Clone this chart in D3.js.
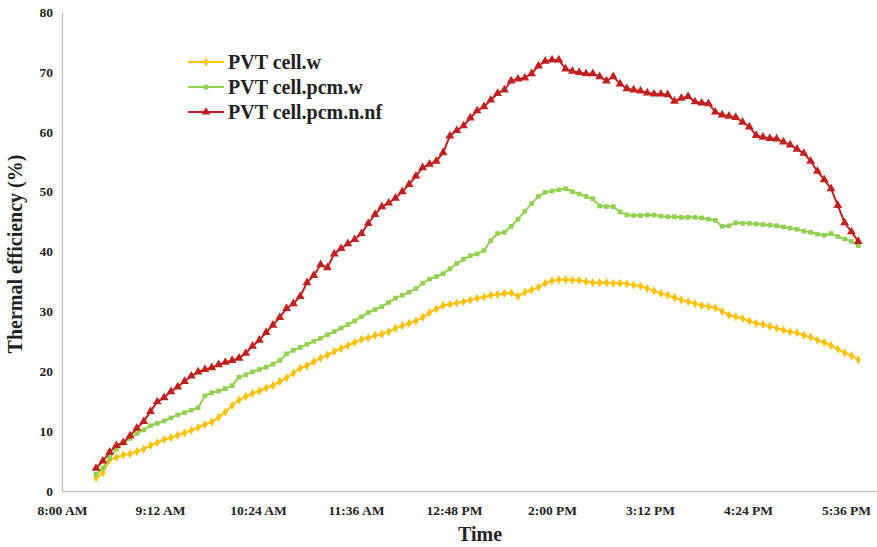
<!DOCTYPE html>
<html>
<head>
<meta charset="utf-8">
<script src="https://cdn.jsdelivr.net/npm/d3@7"></script>
<style>
  body { margin: 0; background: #fff; }
  svg text { font-family: "Liberation Serif", "Times New Roman", serif; font-weight: bold; fill: #222; }
</style>
</head>
<body>
<div id="chart"></div>
<script>
const WIDTH = 877;
const HEIGHT = 547;

// readings every 5 minutes, starting 8:25 AM
const START_TIME = [8, 25];
const STEP_MINUTES = 5;

const cellW = [
  2.2, 3.0, 5.2, 5.6, 6.0, 6.2, 6.6, 7.0, 7.6, 8.1,
  8.6, 8.9, 9.3, 9.7, 10.1, 10.6, 11.1, 11.5, 12.3, 13.2,
  14.3, 15.2, 15.8, 16.3, 16.7, 17.2, 17.6, 18.3, 18.9, 19.7,
  20.5, 20.9, 21.6, 22.2, 22.7, 23.3, 23.8, 24.3, 24.8, 25.3,
  25.6, 26.0, 26.2, 26.6, 27.2, 27.6, 28.0, 28.4, 29.0, 29.8,
  30.4, 31.0, 31.2, 31.4, 31.6, 31.9, 32.2, 32.4, 32.7, 32.8,
  33.0, 33.1, 32.5, 33.2, 33.6, 34.0, 34.7, 35.1, 35.3, 35.3,
  35.2, 35.2, 35.0, 34.8, 34.8, 34.8, 34.7, 34.7, 34.6, 34.4,
  34.2, 33.8, 33.4, 33.0, 32.7, 32.3, 31.9, 31.6, 31.3, 31.0,
  30.8, 30.6, 30.0, 29.4, 29.1, 28.8, 28.4, 28.0, 27.8, 27.5,
  27.2, 26.9, 26.6, 26.4, 26.0, 25.7, 25.2, 24.8, 24.3, 23.7,
  23.1, 22.6, 21.9
];

const cellPcmW = [
  2.8, 3.8, 5.6, 7.0, 8.0, 8.8, 9.6, 10.2, 10.9, 11.3,
  11.7, 12.2, 12.7, 13.1, 13.5, 13.9, 15.9, 16.4, 16.7, 17.1,
  17.6, 19.0, 19.4, 19.9, 20.3, 20.7, 21.2, 21.8, 22.9, 23.5,
  24.0, 24.5, 25.0, 25.5, 26.1, 26.6, 27.2, 27.8, 28.4, 29.1,
  29.8, 30.3, 30.8, 31.5, 32.2, 32.7, 33.2, 33.8, 34.7, 35.4,
  35.8, 36.3, 37.1, 38.0, 38.7, 39.3, 39.6, 40.2, 41.8, 43.0,
  43.2, 44.2, 45.4, 46.7, 48.0, 49.2, 49.9, 50.1, 50.3, 50.5,
  50.0, 49.6, 49.2, 48.8, 47.6, 47.5, 47.5, 46.6, 46.1, 46.0,
  46.0, 46.1, 46.1, 45.9, 45.8, 45.8, 45.7, 45.7, 45.7, 45.6,
  45.4, 45.2, 44.2, 44.3, 44.8, 44.7, 44.7, 44.6, 44.5, 44.4,
  44.3, 44.1, 43.9, 43.7, 43.4, 43.2, 42.9, 42.7, 43.0, 42.5,
  42.1, 41.7, 41.0
];

const cellPcmNnf = [
  3.8, 5.0, 6.5, 7.6, 8.1, 9.2, 10.5, 11.6, 13.3, 14.9,
  15.6, 16.6, 17.4, 18.3, 19.2, 19.9, 20.3, 20.6, 21.1, 21.5,
  21.8, 22.2, 23.0, 24.2, 25.2, 26.5, 27.7, 29.0, 30.5, 31.3,
  32.5, 34.8, 36.0, 37.8, 37.3, 39.6, 40.5, 41.3, 42.0, 43.0,
  44.7, 46.2, 47.5, 48.1, 48.9, 50.0, 51.2, 52.6, 54.0, 54.6,
  55.1, 56.5, 59.3, 60.2, 61.0, 62.3, 63.5, 64.2, 65.3, 66.4,
  67.0, 68.5, 68.8, 69.0, 69.7, 71.0, 71.8, 72.0, 72.0, 70.5,
  70.1, 69.9, 69.7, 69.7, 69.2, 68.5, 69.2, 68.0, 67.2, 67.0,
  66.8, 66.5, 66.3, 66.3, 66.2, 65.1, 65.6, 65.9, 65.0, 64.8,
  64.7, 63.3, 62.8, 62.6, 62.4, 61.6, 60.8, 59.4, 59.1, 58.9,
  58.8, 58.3, 57.8, 57.1, 56.4, 55.1, 53.4, 52.0, 50.5, 47.7,
  44.8, 43.3, 41.7
];

const seriesNames = ["PVT cell.w", "PVT cell.pcm.w", "PVT cell.pcm.n.nf"];
const seriesColors = ["#FFC000", "#92D050", "#C0201E"];
const seriesSymbols = [d3.symbolDiamond, d3.symbolSquare, d3.symbolTriangle];
const seriesSymbolSizes = [24, 22, 34];

const yTicks = [0, 10, 20, 30, 40, 50, 60, 70, 80];
const xTickLabels = ["8:00 AM", "9:12 AM", "10:24 AM", "11:36 AM", "12:48 PM", "2:00 PM", "3:12 PM", "4:24 PM", "5:36 PM"];

const day = (h, m) => new Date(2020, 0, 1, h, m);
const xTickTimes = xTickLabels.map((d, i) => d3.timeMinute.offset(day(8, 0), i * 72));

const margin = { left: 62, top: 12 };
const plotBottom = 491;

let x = d3.scaleTime()
    .domain([day(8, 0), day(18, 0)])
    .range([margin.left, margin.left + 600 * 98 / 72]);
let y = d3.scaleLinear()
    .domain([0, 80])
    .range([plotBottom, margin.top]);

let svg = d3.select("#chart").append("svg")
    .attr("width", WIDTH)
    .attr("height", HEIGHT);

// Axes
let xAxis = svg.append("g")
    .attr("transform", `translate(0,${plotBottom})`)
    .call(d3.axisBottom(x).tickValues(xTickTimes).tickSize(0).tickPadding(14)
        .tickFormat((d, i) => xTickLabels[i]));
xAxis.select(".domain").attr("stroke", "#bfbfbf").attr("stroke-width", 1.3);
xAxis.selectAll("text").attr("font-size", 13.5).attr("fill", "#222")
    .style("font-family", "'Liberation Serif', serif").style("font-weight", "bold");

let yAxis = svg.append("g")
    .attr("transform", `translate(${margin.left},0)`)
    .call(d3.axisLeft(y).tickValues(yTicks).tickSize(0).tickPadding(9));
yAxis.select(".domain").attr("stroke", "#bfbfbf").attr("stroke-width", 1.3);
yAxis.selectAll("text").attr("font-size", 13.5).attr("fill", "#222")
    .style("font-family", "'Liberation Serif', serif").style("font-weight", "bold");

// Axis titles
svg.append("text")
    .attr("x", 480).attr("y", 541)
    .attr("text-anchor", "middle")
    .attr("font-size", 20)
    .text("Time");

svg.append("text")
    .attr("transform", "translate(22,254) rotate(-90)")
    .attr("text-anchor", "middle")
    .attr("font-size", 20)
    .text("Thermal efficiency (%)");

// Series
const allSeries = [cellW, cellPcmW, cellPcmNnf];
const timeOf = (i) => d3.timeMinute.offset(day(START_TIME[0], START_TIME[1]), i * STEP_MINUTES);

let line = d3.line()
    .x((d, i) => x(timeOf(i)))
    .y(d => y(d));

allSeries.forEach((values, s) => {
    let g = svg.append("g").attr("class", "series" + s);
    g.append("path")
        .datum(values)
        .attr("fill", "none")
        .attr("stroke", seriesColors[s])
        .attr("stroke-width", 2)
        .attr("d", line);
    g.selectAll("path.marker")
        .data(values)
        .join("path")
        .attr("class", "marker")
        .attr("transform", (d, i) => `translate(${x(timeOf(i))},${y(d)})`)
        .attr("d", d3.symbol().type(seriesSymbols[s]).size(seriesSymbolSizes[s]))
        .attr("fill", seriesColors[s]);
});

// Legend
const legendX = 188;
const legendY = [62, 87, 112];
seriesNames.forEach((name, s) => {
    let lg = svg.append("g").attr("transform", `translate(${legendX},${legendY[s]})`);
    lg.append("line")
        .attr("x1", 0).attr("x2", 36)
        .attr("stroke", seriesColors[s]).attr("stroke-width", 2);
    lg.append("path")
        .attr("transform", "translate(18,0)")
        .attr("d", d3.symbol().type(seriesSymbols[s]).size(seriesSymbolSizes[s]))
        .attr("fill", seriesColors[s]);
    lg.append("text")
        .attr("x", 40).attr("y", 7)
        .attr("font-size", 20)
        .text(name);
});
</script>
</body>
</html>
